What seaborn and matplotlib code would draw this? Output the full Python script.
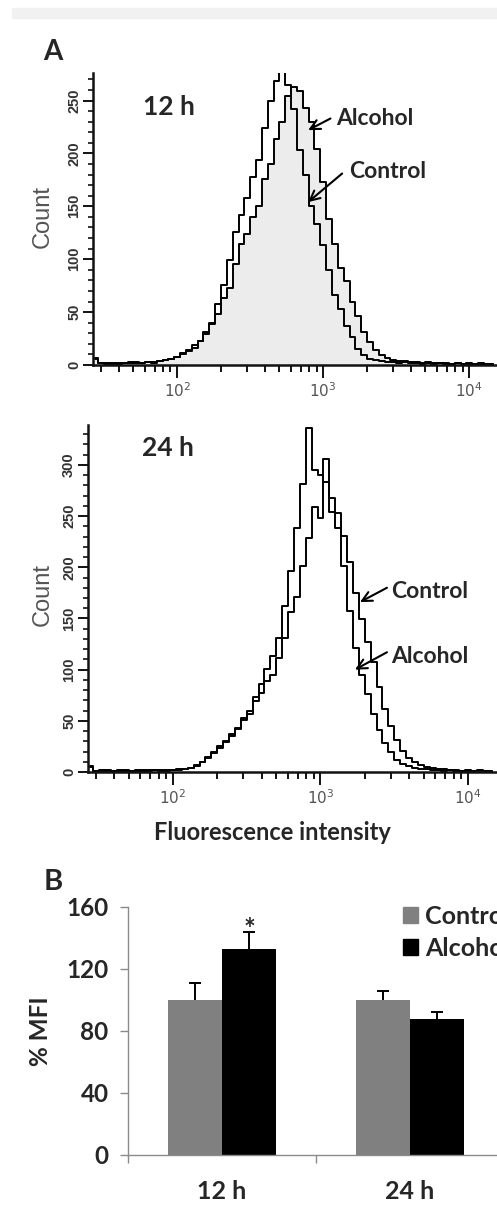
import numpy as np
import pandas as pd
import matplotlib
matplotlib.use("Agg")
import matplotlib.pyplot as plt
from matplotlib.patches import Patch, Rectangle
from matplotlib.ticker import LogLocator, MultipleLocator, NullFormatter
import seaborn as sns

# flow cytometry channels, log10 of fluorescence intensity
channels = [1.44, 1.48, 1.52, 1.56, 1.60, 1.64, 1.68, 1.72, 1.76, 1.80, 1.84, 1.88,
            1.92, 1.96, 2.00, 2.04, 2.08, 2.12, 2.16, 2.20, 2.24, 2.28, 2.32, 2.36,
            2.40, 2.44, 2.48, 2.52, 2.56, 2.60, 2.64, 2.68, 2.72, 2.76, 2.80, 2.84,
            2.88, 2.92, 2.96, 3.00, 3.04, 3.08, 3.12, 3.16, 3.20, 3.24, 3.28, 3.32,
            3.36, 3.40, 3.44, 3.48, 3.52, 3.56, 3.60, 3.64, 3.68, 3.72, 3.76, 3.80,
            3.84, 3.88, 3.92, 3.96, 4.00, 4.04, 4.08, 4.12, 4.16]

# counts
count_12h_control = [7, 2, 1, 2, 1, 2, 3, 2, 2, 3, 2, 4, 5, 6,
                     8, 11, 13, 19, 23, 31, 40, 58, 76,
                     99, 126, 142, 158, 178, 194, 224, 250, 268,
                     277, 265, 242, 203, 180, 150, 133, 113, 90,
                     66, 53, 37, 26, 15, 9, 6, 5, 4,
                     3, 3, 2, 3, 2, 2, 1, 2, 1,
                     2, 1, 1, 2, 1, 1, 1, 2, 1, 1]
count_12h_alcohol = [6, 2, 2, 1, 2, 2, 2, 3, 2, 3, 3, 4, 5, 6,
                     8, 10, 14, 16, 23, 29, 39, 48, 63,
                     73, 95, 114, 124, 140, 150, 176, 190, 214,
                     230, 254, 263, 259, 243, 230, 204, 173, 138,
                     114, 92, 79, 60, 46, 31, 22, 14, 9,
                     7, 5, 4, 4, 3, 3, 2, 3, 2,
                     2, 2, 1, 2, 1, 2, 1, 1, 1, 1]
count_24h_control = [5, 1, 2, 1, 1, 2, 1, 1, 1, 2, 1, 2, 2, 1,
                     2, 3, 3, 4, 6, 10, 14, 20, 23,
                     30, 35, 42, 51, 57, 69, 77, 89, 95,
                     111, 131, 156, 171, 201, 229, 259, 248, 306,
                     254, 253, 231, 205, 175, 149, 127, 107, 83,
                     62, 45, 31, 21, 14, 10, 7, 5, 4,
                     3, 3, 2, 2, 1, 2, 1, 1, 1, 1]
count_24h_alcohol = [6, 1, 1, 2, 1, 1, 2, 1, 2, 1, 2, 2, 1, 2,
                     2, 2, 3, 4, 7, 10, 15, 19, 25,
                     29, 37, 43, 53, 60, 73, 86, 101, 113,
                     131, 162, 196, 238, 281, 336, 295, 290, 283,
                     268, 238, 201, 157, 121, 95, 76, 57, 41,
                     28, 20, 12, 8, 6, 4, 3, 3, 2,
                     2, 1, 2, 1, 1, 1, 1, 2, 1, 1]

# panel B: % MFI
times = ["12 h", "12 h", "24 h", "24 h"]
groups = ["Control", "Alcohol", "Control", "Alcohol"]
mfi = [100, 133, 100, 88]
mfi_err = [11, 11, 6, 4]

sns.set_style("white")
plt.rcParams["font.family"] = ["Lato", "DejaVu Sans"]

W, H = 497, 1212
fig = plt.figure(figsize=(W / 100, H / 100), dpi=100)
fig.patches.append(Rectangle((12 / W, 1 - 18 / H), 485 / W, 10 / H,
                             transform=fig.transFigure, color="#f1f1f1", zorder=0))

intensity = 10 ** np.array(channels)


def hist_panel(ax, ctrl, alc, ymax, fill):
    df = pd.DataFrame({"x": np.concatenate([intensity, intensity]),
                       "count": ctrl + alc,
                       "group": ["Control"] * len(ctrl) + ["Alcohol"] * len(alc)})
    if fill:
        ax.fill_between(intensity, 0, alc, step="mid", color="#ececec", lw=0)
    sns.lineplot(data=df, x="x", y="count", units="group", estimator=None,
                 color="black", lw=1.4, drawstyle="steps-mid", ax=ax, legend=False)
    ax.set_xscale("log")
    ax.set_xlim(10 ** 1.424, 10 ** 4.19)
    ax.set_ylim(0, ymax)
    ax.set_xlabel("")
    ax.set_ylabel("")
    for s in ["top", "right"]:
        ax.spines[s].set_visible(False)
    for s in ["left", "bottom"]:
        ax.spines[s].set_linewidth(1.8)
        ax.spines[s].set_color("#111")
    ax.patch.set_alpha(0)
    ax.xaxis.set_major_locator(LogLocator(base=10, numticks=10))
    ax.xaxis.set_minor_locator(LogLocator(base=10, subs=np.arange(2, 10), numticks=20))
    ax.xaxis.set_minor_formatter(NullFormatter())
    ax.yaxis.set_major_locator(MultipleLocator(50))
    ax.yaxis.set_minor_locator(MultipleLocator(10))
    ax.tick_params(axis="x", which="major", direction="out", length=9, width=1.4,
                   color="#111", labelsize=11, labelcolor="#555", pad=3, bottom=True)
    ax.tick_params(axis="x", which="minor", direction="out", length=5, width=1.4,
                   color="#111", bottom=True)
    ax.tick_params(axis="y", which="major", direction="out", length=7, width=1.4,
                   color="#111", labelsize=10.5, labelcolor="#333", pad=1.5, left=True)
    ax.tick_params(axis="y", which="minor", direction="out", length=3.5, width=1.2,
                   color="#111", left=True)
    for lab in ax.get_yticklabels():
        lab.set_rotation(90)
        lab.set_va("center")
        lab.set_family("Liberation Sans")
        lab.set_fontweight("bold")
    for lab in ax.get_xticklabels():
        lab.set_family("DejaVu Sans")


arrow = dict(arrowstyle="->,head_length=0.7,head_width=0.35", lw=1.5, color="black",
             shrinkA=0, shrinkB=0)
lab_kw = dict(fontsize=16.5, fontweight="bold", va="center")

# ---- panel A, 12 h
ax1 = fig.add_axes([93 / W, 1 - 365 / H, (W - 93) / W, 292 / H])
hist_panel(ax1, count_12h_control, count_12h_alcohol, 276, True)
ax1.annotate("", xy=(10 ** 2.897, 222), xytext=(10 ** 3.05, 233), arrowprops=arrow)
ax1.annotate("", xy=(10 ** 2.897, 154), xytext=(10 ** 3.13, 181), arrowprops=arrow)
ax1.text(10 ** 3.09, 233, "Alcohol", **lab_kw)
ax1.text(10 ** 3.175, 183, "Control", **lab_kw)
fig.text(169 / W, 1 - 107 / H, "12 h", fontsize=19, fontweight="bold", ha="center", va="center")

# ---- panel A, 24 h
ax2 = fig.add_axes([88 / W, 1 - 772 / H, (W - 88) / W, 347 / H])
hist_panel(ax2, count_24h_control, count_24h_alcohol, 339, False)
ax2.set_xlim(10 ** 1.424, 10 ** 4.197)
ax2.annotate("", xy=(10 ** 3.268, 166), xytext=(10 ** 3.451, 180), arrowprops=arrow)
ax2.annotate("", xy=(10 ** 3.234, 100), xytext=(10 ** 3.451, 117), arrowprops=arrow)
ax2.text(10 ** 3.48, 176, "Control", **lab_kw)
ax2.text(10 ** 3.48, 113, "Alcohol", **lab_kw)
fig.text(168 / W, 1 - 448 / H, "24 h", fontsize=19, fontweight="bold", ha="center", va="center")

fig.text(53 / W, 1 - 52 / H, "A", fontsize=20, fontweight="bold", ha="center", va="center")
for y in (217, 595):
    fig.text(43 / W, 1 - y / H, "Count", fontsize=17, rotation=90, ha="center",
             va="center", color="#555", family="Liberation Sans")
fig.text(272 / W, 1 - 832 / H, "Fluorescence intensity", fontsize=17,
         fontweight="bold", ha="center", va="center")

# ---- panel B
ax3 = fig.add_axes([128 / W, 1 - 1155 / H, 376 / W, 248 / H])
bar_df = pd.DataFrame({"time": times, "group": groups, "mfi": mfi, "err": mfi_err})
palette = {"Control": "#808080", "Alcohol": "#000000"}
sns.barplot(data=bar_df, x="time", y="mfi", hue="group", palette=palette,
            width=0.575, errorbar=None, saturation=1, legend=False, ax=ax3,
            linewidth=0, zorder=2)
bars = sorted(ax3.patches, key=lambda p: p.get_x())
centers = [p.get_x() + p.get_width() / 2 for p in bars]
eb = ax3.errorbar(centers, bar_df["mfi"], yerr=[np.zeros(len(mfi_err)), bar_df["err"]],
                  fmt="none", ecolor="black", elinewidth=1.4, capsize=4, capthick=1.4,
                  zorder=1)
eb[1][0].set_visible(False)  # upper bars only, no cap on the bar top
ax3.text(centers[1], bar_df["mfi"][1] + bar_df["err"][1] - 7, "*", fontsize=20,
         fontweight="bold", ha="center", va="bottom")
ax3.set_xlim(-0.5, 1.5)
ax3.set_ylim(0, 160)
ax3.set_yticks([0, 40, 80, 120, 160])
ax3.set_xlabel("")
ax3.set_ylabel("")
for s in ["top", "right"]:
    ax3.spines[s].set_visible(False)
for s in ["left", "bottom"]:
    ax3.spines[s].set_color("#8a8a8a")
    ax3.spines[s].set_linewidth(1.0)
ax3.set_xticks([-0.5, 0.5, 1.5], minor=True)
ax3.tick_params(axis="x", which="major", length=0, pad=18, labelsize=18)
ax3.tick_params(axis="x", which="minor", length=6, color="#8a8a8a", width=1, bottom=True)
ax3.tick_params(axis="y", length=6, color="#8a8a8a", width=1, labelsize=17.5, pad=8, left=True)
for lab in ax3.get_xticklabels() + ax3.get_yticklabels():
    lab.set_fontweight("bold")

# the legend runs off the right edge, as in the original figure
fig.legend(handles=[Patch(color="#808080", label="Control"),
                    Patch(color="#000000", label="Alcohol")],
           loc="upper left", bbox_to_anchor=(403 / W, 1 - 905 / H), frameon=False,
           prop={"weight": "bold", "size": 18}, handlelength=0.6, handleheight=0.6,
           handletextpad=0.3, labelspacing=0.35, borderpad=0, borderaxespad=0)

fig.text(53 / W, 1 - 882 / H, "B", fontsize=21, fontweight="bold", ha="center", va="center")
fig.text(40 / W, 1 - 1031 / H, "% MFI", fontsize=17.5, fontweight="bold", rotation=90,
         ha="center", va="center")

fig.savefig("out.png", dpi=100)
